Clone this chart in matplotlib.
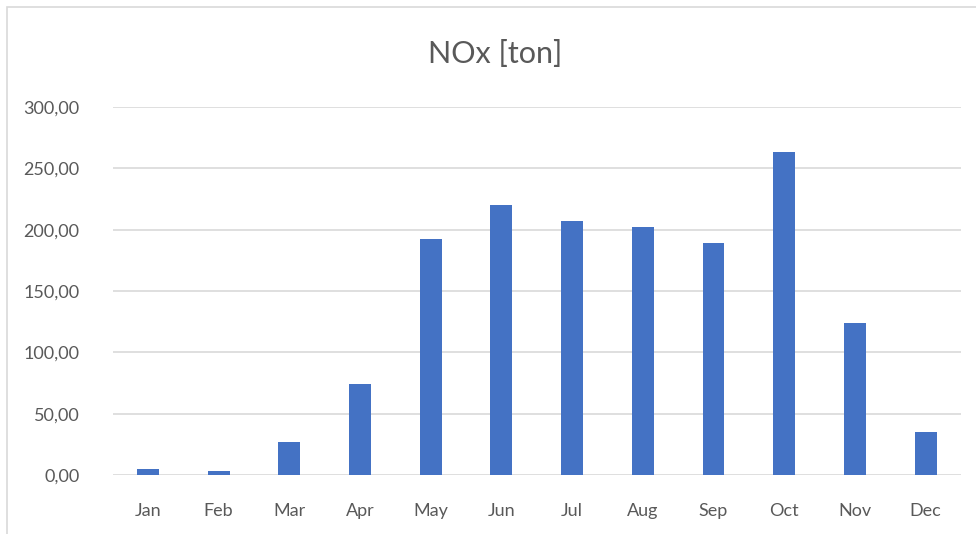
import matplotlib
matplotlib.use("Agg")
import matplotlib.pyplot as plt
import matplotlib.patches as mpatches
import numpy as np

months = ['Jan', 'Feb', 'Mar', 'Apr', 'May', 'Jun', 'Jul', 'Aug', 'Sep', 'Oct', 'Nov', 'Dec']
nox = [5, 3, 27, 74, 192, 220, 207, 202, 189, 263, 124, 35]
yticks = [0, 50, 100, 150, 200, 250, 300]

plt.rcParams['font.family'] = ['Lato', 'DejaVu Sans']

fig = plt.figure(figsize=(9.76, 5.34), dpi=100)
ax = fig.add_axes([0.1154, 0.1105, 0.8692, 0.6891])

x = np.arange(len(months))
ax.bar(x, nox, width=0.31, color='#4472C4', zorder=3)

ax.set_xlim(-0.5, len(months) - 0.5)
ax.set_ylim(0, 300)
ax.set_yticks(yticks)
# comma as decimal separator, like the original
ax.set_yticklabels([('%.2f' % v).replace('.', ',') for v in yticks])
ax.set_xticks(x)
ax.set_xticklabels(months)

ax.grid(axis='y', color='#D9D9D9', linewidth=1.2, zorder=0)
for s in ax.spines.values():
    s.set_visible(False)
ax.tick_params(axis='both', length=0, labelsize=13, labelcolor='#595959')
ax.tick_params(axis='x', pad=20)
ax.tick_params(axis='y', pad=24)

fig.text(0.507, 0.898, 'NOx [ton]', ha='center', va='center', fontsize=22, color='#595959')

# chart border
border = mpatches.Rectangle((7 / 976, -0.02), 1.0, 1 - 7 / 534 + 0.02, transform=fig.transFigure,
                            fill=False, edgecolor='#D9D9D9', linewidth=1.2)
fig.patches.append(border)

fig.savefig('out.png', dpi=100)
